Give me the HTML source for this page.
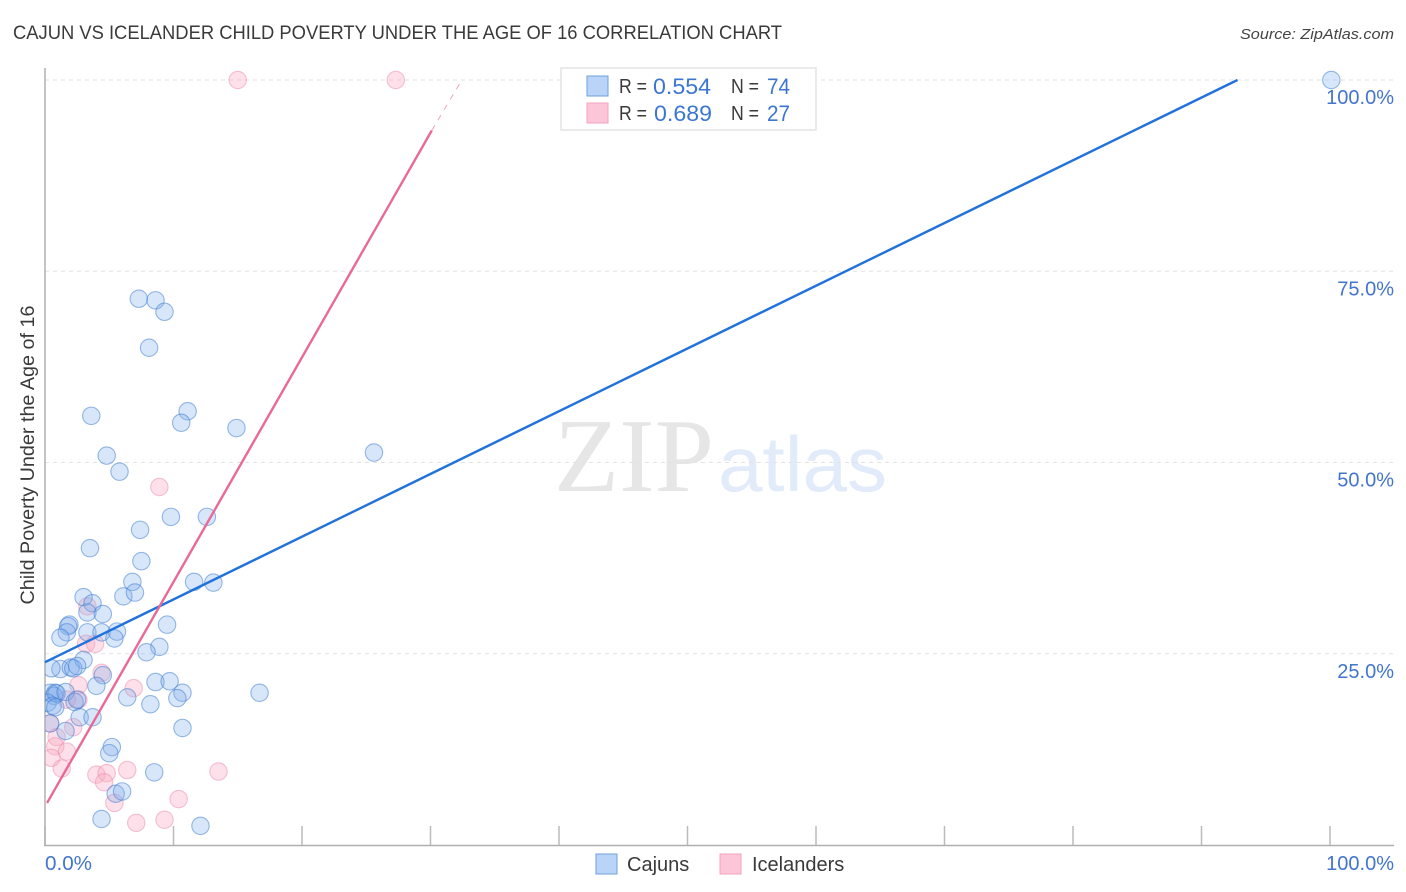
<!DOCTYPE html>
<html lang="en">
<head>
<meta charset="utf-8">
<title>Cajun vs Icelander Child Poverty Under the Age of 16 Correlation Chart</title>
<style>
html,body{margin:0;padding:0;background:#fff;width:1406px;height:892px;overflow:hidden}
svg{display:block;font-family:"Liberation Sans",sans-serif}
.tick{fill:#4475cc;font-size:20px}
.lg{fill:#3a3a3a;font-size:20px}
.val{fill:#3b76d2;font-size:22.5px}
</style>
</head>
<body>
<svg id="chart" width="1406" height="892" viewBox="0 0 1406 892" xmlns="http://www.w3.org/2000/svg">
  <defs>
    <clipPath id="plot-clip"><rect x="45" y="60" width="1349" height="786"/></clipPath>
  </defs>
  <text x="13" y="39" font-size="19" fill="#3a3a3a" textLength="769" lengthAdjust="spacingAndGlyphs">CAJUN VS ICELANDER CHILD POVERTY UNDER THE AGE OF 16 CORRELATION CHART</text>
  <text x="1394" y="39" font-size="15" font-style="italic" fill="#444" text-anchor="end" textLength="154" lengthAdjust="spacingAndGlyphs">Source: ZipAtlas.com</text>
  <text x="554" y="491" font-family="'Liberation Serif',serif" font-size="105" fill="#e6e6e6" textLength="160" lengthAdjust="spacingAndGlyphs">ZIP</text>
  <text x="718" y="491" font-size="78" fill="#e2ebfa" textLength="169" lengthAdjust="spacingAndGlyphs">atlas</text>
  <g id="grid"></g>
  <g id="ticks"></g>
  <line x1="45" y1="68" x2="45" y2="846" stroke="#b0b0b0" stroke-width="1.5"/>
  <line x1="44" y1="845.5" x2="1394" y2="845.5" stroke="#b0b0b0" stroke-width="1.5"/>
  <g id="pts-icelanders" clip-path="url(#plot-clip)"></g>
  <g id="pts-cajuns" clip-path="url(#plot-clip)"></g>
  <g id="trends"></g>
  <text transform="translate(34,455) rotate(-90)" font-size="19.5" fill="#3a3a3a" text-anchor="middle" textLength="299" lengthAdjust="spacingAndGlyphs">Child Poverty Under the Age of 16</text>
  <g id="ylabels"></g>
  <text class="tick" x="45" y="870" textLength="47" lengthAdjust="spacingAndGlyphs">0.0%</text>
  <text class="tick" x="1394" y="870" text-anchor="end">100.0%</text>

  <g>
    <rect x="561" y="68" width="255" height="62" fill="#fff" stroke="#e4e4e4" stroke-width="1.5"/>
    <rect x="587" y="76" width="21" height="20" fill="#b9d4f8" stroke="#6fa0dc" stroke-width="1"/>
    <rect x="587" y="103" width="21" height="20" fill="#fcc6d8" stroke="#f3a3bd" stroke-width="1"/>
    <text class="lg" x="619" y="93" textLength="28" lengthAdjust="spacingAndGlyphs">R =</text>
    <text class="val" x="653" y="94" textLength="58" lengthAdjust="spacingAndGlyphs">0.554</text>
    <text class="lg" x="731" y="93" textLength="28" lengthAdjust="spacingAndGlyphs">N =</text>
    <text class="val" x="767" y="94" textLength="23" lengthAdjust="spacingAndGlyphs">74</text>
    <text class="lg" x="619" y="120" textLength="28" lengthAdjust="spacingAndGlyphs">R =</text>
    <text class="val" x="654" y="121" textLength="58" lengthAdjust="spacingAndGlyphs">0.689</text>
    <text class="lg" x="731" y="120" textLength="28" lengthAdjust="spacingAndGlyphs">N =</text>
    <text class="val" x="767" y="121" textLength="23" lengthAdjust="spacingAndGlyphs">27</text>
  </g>

  <g>
    <rect x="596" y="854" width="21" height="20" fill="#b9d4f8" stroke="#6fa0dc" stroke-width="1"/>
    <text class="lg" x="627" y="871">Cajuns</text>
    <rect x="720" y="854" width="21" height="20" fill="#fcc6d8" stroke="#f3a3bd" stroke-width="1"/>
    <text class="lg" x="752" y="871">Icelanders</text>
  </g>
</svg>
<script>
// Chart data (percent values)
const xTickValues = [0, 10, 20, 30, 40, 50, 60, 70, 80, 90, 100];
const yTickValues = [25, 50, 75, 100];
const yTickLabels = ["25.0%", "50.0%", "75.0%", "100.0%"];

const cajunsX = [100.1, 7.3, 8.6, 9.3, 8.1, 3.6, 11.1, 10.6, 14.9, 25.6, 4.8, 5.8, 9.8, 12.6, 7.4, 3.5, 7.5, 6.8, 11.6, 13.1, 6.1, 7, 3, 3.7, 3.3, 4.5, 1.9, 1.8, 1.7, 3.3, 4.4, 5.6, 1.2, 5.4, 9.5, 8.9, 7.9, 3, 1.2, 2, 2.2, 2.5, 4.5, 4, 0.4, 0.8, 0.7, 0.9, 1.6, 8.6, 9.7, 10.7, 10.3, 6.4, 8.2, 16.7, 0.2, 0.6, 0.8, 2.3, 2.5, 2.7, 3.7, 10.7, 1.6, 0.4, 5.2, 5, 8.5, 5.5, 6, 4.4, 12.1, 0.5];
const cajunsY = [100, 71.4, 71.2, 69.7, 65, 56.1, 56.7, 55.2, 54.5, 51.3, 50.9, 48.8, 42.9, 42.9, 41.2, 38.8, 37.1, 34.4, 34.4, 34.3, 32.5, 33, 32.4, 31.6, 30.4, 30.2, 28.8, 28.6, 27.8, 27.8, 27.8, 27.9, 27.1, 27, 28.8, 25.9, 25.2, 24.2, 23, 23.2, 23.1, 23.4, 22.2, 20.8, 19.9, 19.9, 19.5, 19.8, 20, 21.3, 21.4, 19.9, 19.2, 19.3, 18.4, 19.9, 18.6, 18.2, 18, 18.7, 19, 16.7, 16.7, 15.3, 14.9, 15.9, 12.8, 12, 9.5, 6.7, 7, 3.4, 2.5, 23.1];

const icelandersX = [15, 27.3, 8.9, 3.3, 3.2, 3.9, 4.4, 6.9, 2.6, 2.6, 1.7, 2.2, 0.9, 0.8, 1.7, 0.5, 1.3, 4, 4.8, 4.6, 6.4, 13.5, 10.4, 5.4, 7.1, 9.3, 0.4];
const icelandersY = [100, 100, 46.8, 31.2, 26.3, 26.3, 22.5, 20.5, 20.9, 19, 19, 15.4, 14.1, 12.9, 12.2, 11.4, 10, 9.2, 9.4, 8.2, 9.8, 9.6, 6, 5.5, 2.9, 3.3, 15.9];

const cajunsTrendX = [0, 92.8];
const cajunsTrendY = [23.9, 100];
const icelandersTrendX = [0.16, 30.1];
const icelandersTrendY = [5.5, 93.4];
const icelandersExtendX = [30.1, 32.4];
const icelandersExtendY = [93.4, 99.9];

const NS = "http://www.w3.org/2000/svg";
function xs(v) { return 45 + v * 12.85; }
function ys(v) { return 845 - v * 7.65; }
function mk(parent, tag, attrs) {
  const el = document.createElementNS(NS, tag);
  for (const k in attrs) el.setAttribute(k, attrs[k]);
  document.getElementById(parent).appendChild(el);
  return el;
}

yTickValues.forEach(function (v, i) {
  const g = mk("grid", "line", { x1: 45, x2: 1394, y1: ys(v), y2: ys(v), stroke: "#e2e2e2", "stroke-width": 1, "stroke-dasharray": "4 4" });
  
  
  const t = mk("ylabels", "text", { x: 1394, y: ys(v) + 24, "text-anchor": "end", class: "tick" });
  t.textContent = yTickLabels[i];
  
  
});

xTickValues.forEach(function (v) {
  const t = mk("ticks", "line", { x1: xs(v), x2: xs(v), y1: 826, y2: 845, stroke: "#bbb", "stroke-width": 1.5 });
  
  
});

icelandersX.forEach(function (v, i) {
  const c = mk("pts-icelanders", "circle", { cx: xs(v), cy: ys(icelandersY[i]), r: 8.7, fill: "rgba(249,170,195,0.36)", stroke: "rgba(236,140,172,0.5)", "stroke-width": 1.1 });
  
  
});

cajunsX.forEach(function (v, i) {
  const c = mk("pts-cajuns", "circle", { cx: xs(v), cy: ys(cajunsY[i]), r: 8.7, fill: "rgba(125,172,235,0.3)", stroke: "rgba(60,122,208,0.52)", "stroke-width": 1.1 });
  
  
});

const lineC = mk("trends", "line", { x1: xs(cajunsTrendX[0]), y1: ys(cajunsTrendY[0]), x2: xs(cajunsTrendX[1]), y2: ys(cajunsTrendY[1]), stroke: "#2272dc", "stroke-width": 2.4 });



const lineI = mk("trends", "line", { x1: xs(icelandersTrendX[0]), y1: ys(icelandersTrendY[0]), x2: xs(icelandersTrendX[1]), y2: ys(icelandersTrendY[1]), stroke: "#e76a97", "stroke-width": 2.4 });



const lineE = mk("trends", "line", { x1: xs(icelandersExtendX[0]), y1: ys(icelandersExtendY[0]), x2: xs(icelandersExtendX[1]), y2: ys(icelandersExtendY[1]), stroke: "#f0a5c0", "stroke-width": 1, "stroke-dasharray": "6 6" });


</script>
</body>
</html>
